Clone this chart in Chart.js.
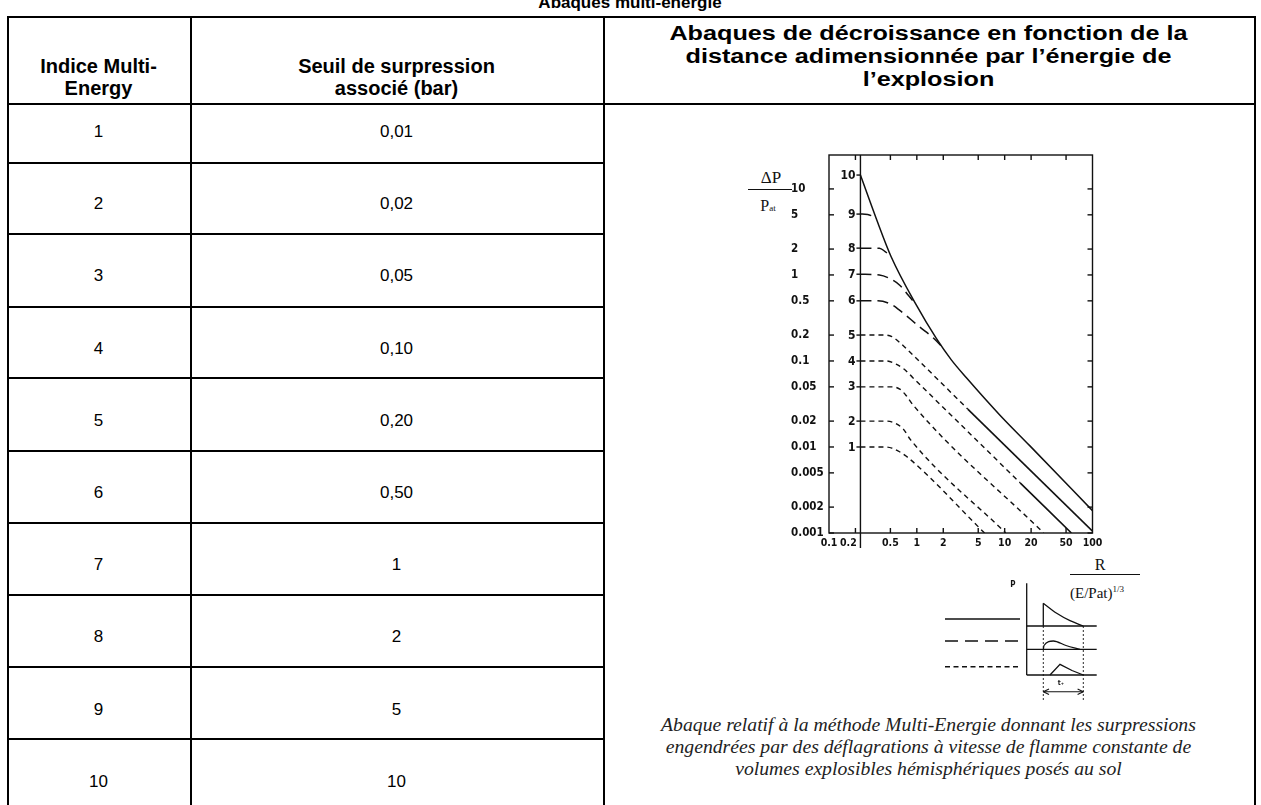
<!DOCTYPE html>
<html><head><meta charset="utf-8">
<script src="https://cdn.jsdelivr.net/npm/chart.js@4"></script>
<style>
html,body{margin:0;padding:0;background:#fff;}
#page{position:relative;width:1261px;height:805px;overflow:hidden;background:#fff;font-family:'Liberation Sans',Arial,sans-serif;color:#000;}
.h{position:absolute;background:#000;height:2px;}
.v{position:absolute;background:#000;width:2px;}
.t{position:absolute;white-space:nowrap;text-align:center;}
.hd{font-weight:bold;font-size:20px;line-height:22px;}
.hd3{font-weight:bold;font-size:20px;line-height:23px;transform:scaleX(1.26);transform-origin:50% 50%;}
.cell{font-size:17px;line-height:20px;height:20px;}
.serif{font-family:'Liberation Serif','Times New Roman',serif;color:#111;}
.cap{font-family:'Liberation Serif','Times New Roman',serif;font-style:italic;font-size:19.7px;line-height:22px;color:#222;}
canvas{position:absolute;}
</style></head>
<body>
<div id="page">
  <div class="t" style="left:480px;width:300px;top:-6px;font-weight:bold;font-size:17px;line-height:17px;">Abaques multi-énergie</div>
  <div class="t hd" style="left:7px;width:183px;top:55px;">Indice Multi-<br>Energy</div>
  <div class="t hd" style="left:190px;width:413px;top:55px;">Seuil de surpression<br>associé (bar)</div>
  <div class="t hd3" style="left:603px;width:651px;top:22px;">Abaques de décroissance en fonction de la<br>distance adimensionnée par l’énergie de<br>l’explosion</div>

  <div class="t serif" style="left:741px;width:60px;top:168px;font-size:17px;line-height:20px;">ΔP</div>
  <div style="position:absolute;left:748px;top:189px;width:44px;height:1.3px;background:#111;"></div>
  <div class="t serif" style="left:738px;width:60px;top:196px;font-size:16px;line-height:20px;">P<span style="font-size:9px;">at</span></div>

  <div class="t serif" style="left:1070px;width:60px;top:555px;font-size:16px;line-height:20px;">R</div>
  <div style="position:absolute;left:1070px;top:574px;width:70px;height:1.3px;background:#111;"></div>
  <div class="t serif" style="left:1070px;top:579px;font-size:15px;line-height:20px;text-align:left;">(E/Pat)<sup style="font-size:9px;">1/3</sup></div>

  <div class="t cap" style="left:603px;width:651px;top:713px;">Abaque relatif à la méthode Multi-Energie donnant les surpressions<br>engendrées par des déflagrations à vitesse de flamme constante de<br>volumes explosibles hémisphériques posés au sol</div>

  <canvas id="main" width="460" height="480" style="left:700px;top:140px;"></canvas>
  <canvas id="legendSketch" width="180" height="135" style="left:930px;top:575px;"></canvas>
</div>
<script>
// ---------- table data ----------
const indices = ['1','2','3','4','5','6','7','8','9','10'];
const thresholds = ['0,01','0,02','0,05','0,10','0,20','0,50','1','2','5','10'];

// ---------- chart data ----------
const xTicks = [0.1,0.2,0.5,1,2,5,10,20,50,100];
const yTicks = [10,5,2,1,0.5,0.2,0.1,0.05,0.02,0.01,0.005,0.002,0.001];
const curveNames = ['1','2','3','4','5','6','7','8','9','10'];
const curveStartR = 0.228;

const curve1 = [[0.228,0.01],[0.43,0.01],[0.52,0.0097],[0.635,0.0088],[0.76,0.0078],[5.9,0.001]];
const curve2 = [[0.228,0.02],[0.45,0.02],[0.56,0.019],[0.70,0.0162],[0.85,0.0121],[10.3,0.001]];
const curve3 = [[0.228,0.05],[0.53,0.05],[0.64,0.047],[0.75,0.04],[0.9,0.031],[27.8,0.001]];
const curve4 = [[0.228,0.1],[0.45,0.1],[0.58,0.092],[0.72,0.08],[0.9,0.064],[15,0.00383]];
const curve4Shock = [[15,0.00383],[57.5,0.001]];
const curve5 = [[0.228,0.2],[0.43,0.2],[0.52,0.192],[0.635,0.165],[0.8,0.132],[3.8,0.0276]];
const curve5Shock = [[3.8,0.0276],[100,0.00105]];
const curve6 = [[0.228,0.5],[0.36,0.5],[0.5,0.46],[0.634,0.39],[1.07,0.25],[1.5,0.19],[1.98,0.143]];
const curve7 = [[0.228,1.02],[0.375,1.0],[0.5,0.9],[0.634,0.765],[0.8,0.58],[0.985,0.448]];
const curve8 = [[0.228,2.05],[0.375,2.05],[0.436,1.87],[0.51,1.63]];
const curve9 = [[0.228,5.1],[0.276,5.05],[0.344,4.57]];
const curve10 = [[0.228,14.5],[0.344,4.57],[0.51,1.63],[0.985,0.448],[1.66,0.184],[2.47,0.103],[3.69,0.0634],[8.79,0.0236],[19.4,0.0103],[100,0.00182]];

// ---------- sketch (pulse shapes) data ----------
const legendSolid = [[1.5,9.1],[9.0,9.1]];
const legendLong = [[1.5,6.9],[9.0,6.9]];
const legendShort = [[1.5,4.33],[9.0,4.33]];
const pAxis = [[9.67,12.67],[9.67,3.5]];
const baseline1 = [[9.67,8.4],[16.67,8.4]];
const baseline2 = [[9.67,6.07],[16.67,6.07]];
const baseline3 = [[9.67,3.5],[16.67,3.5]];
const shockRise = [[11.33,8.4],[11.33,10.67]];
const shockDecay = [[11.33,10.67],[12.67,9.67],[14.0,8.93],[15.33,8.4]];
const pulse2 = [[11.33,6.07],[11.4,6.45],[12.33,6.9],[13.6,6.45],[15.0,6.07]];
const pulse3 = [[12.0,3.5],[13.0,4.57],[14.2,3.95],[15.33,3.5]];
const guideA = [[11.33,8.4],[11.33,0.8]];
const guideB = [[15.33,8.4],[15.33,0.8]];
const durationArrow = [[11.33,1.83],[15.33,1.83]];
const arrowHeadA1 = [[11.33,1.83],[11.9,2.1]];
const arrowHeadA2 = [[11.33,1.83],[11.9,1.56]];
const arrowHeadB1 = [[15.33,1.83],[14.76,2.1]];
const arrowHeadB2 = [[15.33,1.83],[14.76,1.56]];

// ---------- table drawing ----------
const page = document.getElementById('page');
function addDiv(cls, style, html){ const d=document.createElement('div'); d.className=cls; d.setAttribute('style',style); if(html!==undefined) d.innerHTML=html; page.appendChild(d); return d; }
addDiv('h','left:7px;top:16px;width:1249px;');
addDiv('h','left:7px;top:103px;width:1249px;');
[7,190,603,1254].forEach(x=>addDiv('v','left:'+x+'px;top:16px;height:800px;'));
const rowLineY = [162,233,306,377,450,522,594,666,738];
rowLineY.forEach(y=>addDiv('h','left:7px;top:'+y+'px;width:598px;'));
indices.forEach((s,i)=>{
  const cy = 132 + i*72.2;
  addDiv('t cell','left:7px;width:183px;top:'+(cy-10)+'px;', s);
  addDiv('t cell','left:190px;width:413px;top:'+(cy-10)+'px;', thresholds[i]);
});

// ---------- main chart ----------
const toXY = pts => pts.map(p=>({x:p[0],y:p[1]}));
const dashShort=[5,4], dashLong=[11,6];
function ds(pts, dash, w){
  return {data:toXY(pts), showLine:true, borderColor:'#111', borderWidth:w, borderDash:dash,
          pointRadius:0, cubicInterpolationMode:'monotone', fill:false};
}
const curves = [curve1,curve2,curve3,curve4,curve5,curve6,curve7,curve8,curve9,curve10];
const datasets = [
  ds(curve1,dashShort,1.4), ds(curve2,dashShort,1.4), ds(curve3,dashShort,1.4),
  ds(curve4,dashShort,1.4), ds(curve4Shock,[],1.6),
  ds(curve5,dashShort,1.4), ds(curve5Shock,[],1.6),
  ds(curve6,dashLong,1.5), ds(curve7,dashLong,1.5), ds(curve8,dashLong,1.5), ds(curve9,dashLong,1.5),
  ds(curve10,[],1.5)
];
const narrow = "'DejaVu Sans Condensed','Liberation Sans',sans-serif";

const decor = {
  id:'decor',
  afterDraw(chart){
    const {ctx, chartArea:a, scales:{x,y}} = chart;
    ctx.save();
    ctx.strokeStyle='#111'; ctx.lineWidth=1.4; ctx.setLineDash([]);
    ctx.strokeRect(a.left, a.top, a.right-a.left, a.bottom-a.top);
    const line=(x1,y1,x2,y2)=>{ctx.beginPath();ctx.moveTo(x1,y1);ctx.lineTo(x2,y2);ctx.stroke();};
    xTicks.slice(1,-1).forEach(v=>{const px=x.getPixelForValue(v); line(px,a.bottom,px,a.bottom-5); line(px,a.top,px,a.top+5);});
    yTicks.forEach(v=>{const py=y.getPixelForValue(v); line(a.left,py,a.left+5,py); line(a.right,py,a.right-5,py);});
    const ix = x.getPixelForValue(curveStartR);
    line(ix,a.top,ix,a.bottom+15);
    ctx.fillStyle='#111'; ctx.font='bold 12px '+narrow; ctx.textAlign='right'; ctx.textBaseline='middle';
    curves.forEach((c,i)=>{const py=y.getPixelForValue(c[0][1]); line(ix-4,py,ix,py); ctx.fillText(curveNames[i], ix-5, py+0.5);});
    ctx.restore();
  }
};

new Chart(document.getElementById('main'), {
  type:'scatter',
  data:{datasets},
  options:{
    responsive:false, animation:false, events:[],
    layout:{padding:{left:91,right:67.5,top:15,bottom:0}},
    plugins:{legend:{display:false}, tooltip:{enabled:false}},
    scales:{
      x:{type:'logarithmic', min:0.1, max:100,
         afterBuildTicks:s=>{s.ticks = xTicks.map(v=>({value:v}));},
         afterFit:s=>{s.height=87;},
         grid:{display:false, drawTicks:false}, border:{display:false},
         ticks:{autoSkip:false, maxRotation:0, padding:4, color:'#111',
                font:{family:narrow,size:10.5,weight:'bold'},
                callback:v=> v===0.2 ? '0.2\u2003\u2002' : String(v)}},
      y:{type:'logarithmic', min:0.001, max:24.8,
         afterBuildTicks:s=>{s.ticks = yTicks.map(v=>({value:v}));},
         afterFit:s=>{s.width=38;},
         grid:{display:false, drawTicks:false}, border:{display:false},
         ticks:{autoSkip:false, padding:4, crossAlign:'far', color:'#111',
                font:{family:narrow,size:11.5,weight:'bold'}, callback:v=>String(v)}}
    }
  },
  plugins:[decor]
});

// ---------- pulse-shape sketch ----------
function sk(pts, dash, w, mono){
  return {data:toXY(pts), showLine:true, borderColor:'#111', borderWidth:w, borderDash:dash,
          pointRadius:0, cubicInterpolationMode: mono?'monotone':'default', tension:0, fill:false};
}
const sketchLabels = {
  id:'sketchLabels',
  afterDraw(chart){
    const {ctx, scales:{x,y}} = chart;
    ctx.save(); ctx.fillStyle='#111'; ctx.textAlign='center'; ctx.textBaseline='middle';
    ctx.font='bold 8px '+narrow; ctx.fillText('P', x.getPixelForValue(8.3), y.getPixelForValue(12.5));
    ctx.font='bold 7px '+narrow; ctx.fillText('t₊', x.getPixelForValue(13.1), y.getPixelForValue(2.7));
    ctx.restore();
  }
};
new Chart(document.getElementById('legendSketch'), {
  type:'scatter',
  data:{datasets:[
    sk(legendSolid,[],1.4), sk(legendLong,[13,7],1.6), sk(legendShort,[5,3.5],1.4),
    sk(pAxis,[],1.3), sk(baseline1,[],1.3), sk(baseline2,[],1.3), sk(baseline3,[],1.3),
    sk(shockRise,[],1.3), sk(shockDecay,[],1.3,true), sk(pulse2,[],1.3,true), sk(pulse3,[],1.3),
    sk(guideA,[2,2],0.9), sk(guideB,[2,2],0.9), sk(durationArrow,[],1.1),
    sk(arrowHeadA1,[],1.1), sk(arrowHeadA2,[],1.1), sk(arrowHeadB1,[],1.1), sk(arrowHeadB2,[],1.1)
  ]},
  options:{
    responsive:false, animation:false, events:[],
    layout:{padding:0},
    plugins:{legend:{display:false}, tooltip:{enabled:false}},
    scales:{x:{type:'linear',min:0,max:18,display:false}, y:{type:'linear',min:0,max:13.5,display:false}}
  },
  plugins:[sketchLabels]
});
</script>
</body></html>
